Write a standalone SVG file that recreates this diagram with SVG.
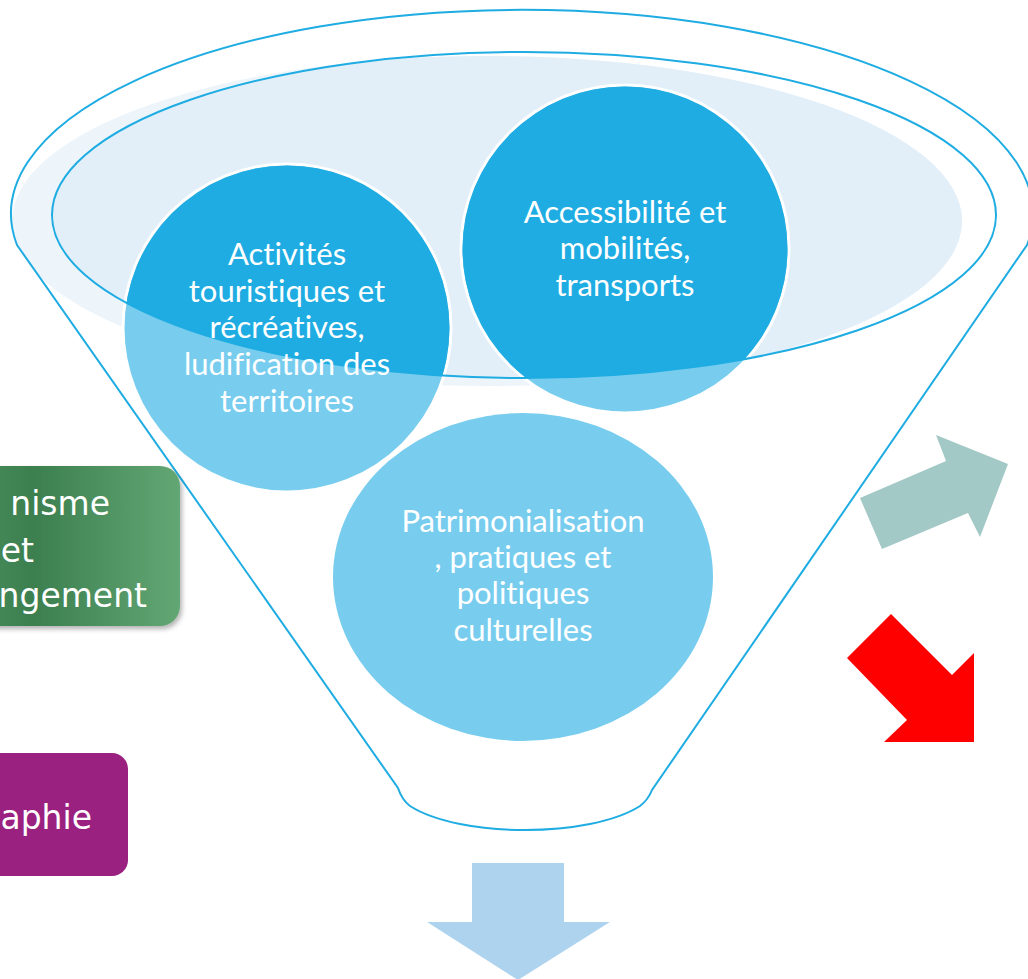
<svg xmlns="http://www.w3.org/2000/svg" width="1028" height="979" viewBox="0 0 1028 979">
<style>
.fl{fill:none;stroke:#1EACE2;stroke-width:2}
.ct{font-family:Lato,"Open Sans",sans-serif;font-size:31px;fill:#fff;text-anchor:middle;font-variant-ligatures:none}
.bt{font-family:"DejaVu Sans",Verdana,sans-serif;font-size:33px;fill:#fff;text-anchor:end}
</style>
<defs>
<clipPath id="inner"><ellipse cx="524" cy="215" rx="472" ry="163"/></clipPath>
<linearGradient id="gg" x1="0" y1="0" x2="1" y2="0">
<stop offset="0" stop-color="#4A8E5C"/>
<stop offset="0.3" stop-color="#3C7F4F"/>
<stop offset="1" stop-color="#62A774"/>
</linearGradient>
<filter id="sh" x="-10%" y="-10%" width="130%" height="130%">
<feDropShadow dx="2" dy="3" stdDeviation="2.5" flood-color="#000" flood-opacity="0.3"/>
</filter>
</defs>
<g id="funnel">
<ellipse cx="487" cy="221" rx="475" ry="165" fill="#EDF5FB"/>
<ellipse cx="487" cy="221" rx="475" ry="165" fill="#E2EFF9" clip-path="url(#inner)"/>
<path class="fl" d="M17,245 A511,204 0 1 1 1027,245 L652,790 Q648,800 640,806 C590,838 460,838 410,806 Q402,800 398,788 Z"/>
</g>
<g id="circle-activites">
<circle cx="287" cy="328" r="164" fill="#78CDEF" stroke="#fff" stroke-width="3"/>
<circle cx="287" cy="328" r="162.5" fill="#1EACE2" clip-path="url(#inner)"/>
</g>
<g id="circle-accessibilite">
<circle cx="625" cy="249" r="164" fill="#78CDEF" stroke="#fff" stroke-width="3"/>
<circle cx="625" cy="249" r="162.5" fill="#1EACE2" clip-path="url(#inner)"/>
</g>
<g id="circle-patrimoine">
<ellipse cx="523" cy="577" rx="190" ry="164" fill="#78CDEF"/>
</g>
<ellipse class="fl" cx="524" cy="215" rx="472" ry="163"/>
<g id="labels">
<text class="ct" x="287" y="265">Activités</text>
<text class="ct" x="287" y="302">touristiques et</text>
<text class="ct" x="287" y="338">récréatives,</text>
<text class="ct" x="287" y="375">ludification des</text>
<text class="ct" x="287" y="412">territoires</text>
<text class="ct" x="625" y="223">Accessibilité et</text>
<text class="ct" x="625" y="259">mobilités,</text>
<text class="ct" x="625" y="296">transports</text>
<text class="ct" x="523" y="532">Patrimonialisation</text>
<text class="ct" x="523" y="568">, pratiques et</text>
<text class="ct" x="523" y="604">politiques</text>
<text class="ct" x="523" y="641">culturelles</text>
</g>
<g id="box-urbanisme">
<rect x="-30" y="466" width="210" height="160" rx="20" fill="url(#gg)" filter="url(#sh)"/>
<text class="bt" x="110" y="515">nisme</text>
<text class="bt" x="34" y="562">et</text>
<text class="bt" x="147" y="607">ngement</text>
</g>
<g id="box-graphie">
<rect x="-30" y="753" width="158" height="123" rx="16" fill="#9B2181"/>
<text class="bt" x="92" y="829">aphie</text>
</g>
<g id="arrows">
<polygon fill="#A3C9C6" points="882,549 860,498 946,461 936,435 1008,464 980,537 968,513"/>
<polygon fill="#FF0000" points="891,614 847,658 907,720 884,742 974,742 974,653 952,675"/>
<polygon fill="#AED3EF" points="472,863 564,863 564,922 610,922 518,980 427,922 472,922"/>
</g>
</svg>
